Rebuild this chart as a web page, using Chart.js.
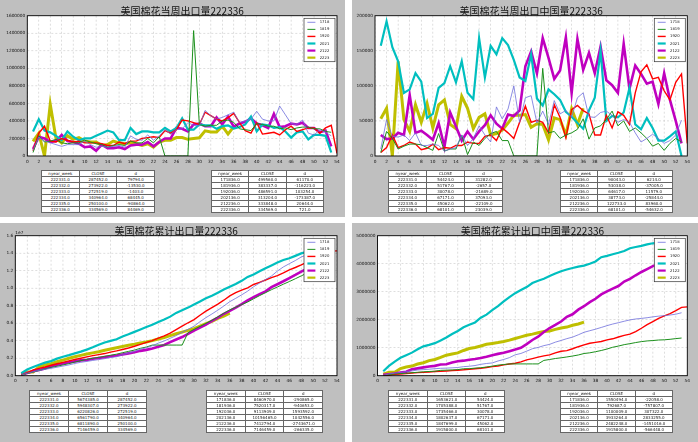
<!DOCTYPE html>
<html><head><meta charset="utf-8">
<script src="https://cdn.jsdelivr.net/npm/chart.js@4"></script>
<style>
html,body{margin:0;padding:0;background:#fff;width:698px;height:442px;overflow:hidden;position:relative}
.q{position:absolute;background:#bfbfbf}
canvas{position:absolute}
table{position:absolute;border-collapse:collapse;background:#fff;font-family:"DejaVu Sans";font-size:4px;color:#222;table-layout:fixed;z-index:5}
td{border:1px solid #666;height:5px;line-height:5px;padding:0;text-align:center;white-space:nowrap;overflow:hidden}
</style></head><body>
<div class="q" style="left:0;top:0;width:345px;height:217px"></div>
<div class="q" style="left:352px;top:0;width:346px;height:217px"></div>
<div class="q" style="left:0;top:223px;width:345px;height:219px"></div>
<div class="q" style="left:352px;top:223px;width:346px;height:219px"></div>
<canvas id="c1" width="345" height="217" style="left:0;top:0"></canvas>
<canvas id="c2" width="346" height="217" style="left:352px;top:0"></canvas>
<canvas id="c3" width="345" height="219" style="left:0;top:223px"></canvas>
<canvas id="c4" width="346" height="219" style="left:352px;top:223px"></canvas>
<script>
// ---------- series names ----------
const seasons = ['1718','1819','1920','2021','2122','2223'];
const xTicksMax = 54;

// ---------- weekly exports (chart 1) ----------
const wk1718 = [65000,217000,170000,150000,130000,110000,130000,130000,130000,170000,130000,100000,110000,100000,110000,120000,100000,230000,190000,180000,240000,180000,230000,300000,250000,300000,310000,380000,350000,340000,520000,460000,420000,440000,470000,499560,380000,400000,420000,510000,420000,400000,400000,570000,470000,370000,360000,410000,260000,240000,300000,270000,230000];
const wk1819 = [40000,230000,160000,170000,190000,150000,140000,150000,150000,180000,160000,140000,130000,100000,120000,130000,120000,170000,150000,150000,200000,150000,220000,0,0,0,0,0,1430000,360000,340000,350000,350000,400000,410000,383337,310000,300000,290000,370000,360000,340000,340000,310000,320000,300000,320000,330000,330000,310000,310000,280000,270000];
const wk1920 = [60000,260000,340000,170000,160000,200000,180000,160000,170000,150000,150000,150000,140000,120000,120000,160000,140000,170000,170000,200000,210000,220000,210000,290000,260000,300000,410000,400000,380000,360000,500000,460000,420000,400000,437000,486591,380000,290000,260000,380000,250000,260000,270000,240000,300000,340000,280000,300000,320000,320000,260000,320000,350000,30000];
const wk2021 = [280000,420000,290000,270000,230000,180000,280000,220000,180000,200000,200000,230000,260000,290000,270000,180000,180000,320000,250000,280000,280000,270000,270000,320000,280000,320000,430000,300000,300000,360000,350000,350000,310000,340000,350000,313204,330000,360000,450000,280000,360000,350000,320000,330000,280000,210000,270000,280000,190000,240000,240000,230000,40000];
const wk2122 = [80000,220000,200000,160000,170000,240000,170000,160000,140000,100000,110000,60000,130000,90000,90000,100000,80000,120000,130000,130000,160000,110000,160000,200000,200000,320000,310000,280000,360000,370000,340000,340000,440000,360000,450000,333848,370000,390000,430000,370000,350000,320000,480000,330000,340000,370000,360000,380000,320000,320000,270000,290000,110000];
const wk2223 = [167000,260000,0,590000,200000,150000,230000,190000,210000,170000,160000,160000,120000,130000,170000,150000,140000,150000,140000,120000,140000,100000,160000,180000,180000,210000,210000,190000,200000,207658,287452,273922,272519,340964,250100,334569];

// ---------- weekly exports to China (chart 2) ----------
const cn1718 = [10000,52000,28000,27000,30000,22000,33000,15000,15000,17000,15000,7000,10000,12000,30000,15000,25000,43000,30000,20000,70000,53000,67000,100000,48000,83000,86000,47000,64000,45000,79000,60000,65000,55000,83000,90043,56000,55000,62000,64000,58000,48000,52000,48000,33000,20000,25000,31000,25000,18000,22000,30000,51000];
const cn1819 = [5000,35000,25000,10000,14000,17000,17000,16000,12000,8000,32000,7000,10000,10000,30000,2000,20000,15000,25000,32000,35000,22000,22000,0,0,0,0,0,125000,33000,35000,25000,30000,33000,38000,53038,24000,40000,43000,52000,64000,43000,50000,35000,40000,33000,25000,14000,18000,8000,18000,25000,20000];
const cn1920 = [5000,12000,30000,12000,15000,20000,17000,9000,11000,17000,9000,12000,11000,15000,15000,20000,18000,18000,28000,30000,22000,40000,33000,25000,48000,71000,48000,51000,48000,33000,73000,55000,26000,66000,72000,64617,60000,30000,30000,58000,40000,63000,58000,45000,90000,120000,130000,110000,112000,93000,80000,105000,117000,18000];
const cn2021 = [157000,192000,155000,135000,90000,95000,118000,106000,54000,60000,97000,104000,128000,105000,135000,90000,81000,168000,112000,157000,145000,168000,158000,137000,112000,107000,145000,82000,72000,95000,88000,80000,63000,56000,47000,38773,65000,83000,150000,50000,57000,55000,62000,97000,45000,38000,54000,40000,22000,22000,28000,35000,0];
const cn2122 = [30000,24000,25000,33000,30000,87000,33000,36000,30000,23000,47000,13000,62000,42000,22000,35000,24000,35000,44000,58000,46000,39000,59000,57000,65000,128000,149000,118000,168000,140000,110000,122000,169000,90000,167000,122733,147000,118000,156000,108000,101000,90000,160000,96000,129000,117000,103000,106000,74000,118000,80000,50000,18000];
const cn2223 = [53000,68000,0,135000,52000,35000,73000,48000,75000,40000,73000,80000,45000,39000,85000,68000,39000,55000,60000,30000,32000,37000,47000,58000,58000,59000,41000,46000,45000,23142,54424,51767,30078,67171,45062,68101];

// ---------- cumulative exports (chart 3) ----------
const cum1718 = [65000,282000,452000,602000,732000,842000,972000,1102000,1232000,1402000,1532000,1632000,1742000,1842000,1952000,2072000,2172000,2402000,2592000,2772000,3012000,3192000,3422000,3722000,3972000,4272000,4582000,4962000,5312000,5652000,6172000,6632000,7052000,7492000,7962000,8460970,8841000,9241000,9661000,10171000,10591000,10991000,11391000,11961000,12431000,12801000,13161000,13571000,13831000,14071000,14371000,14641000,14871000];
const cum1819 = [40000,270000,430000,600000,790000,940000,1080000,1230000,1380000,1560000,1720000,1860000,1990000,2090000,2210000,2340000,2460000,2630000,2780000,2930000,3130000,3280000,3500000,3500000,3500000,3500000,3500000,3500000,4930000,5290000,5630000,5980000,6330000,6730000,7137000,7520317,7830000,8130000,8420000,8790000,9150000,9490000,9830000,10140000,10460000,10760000,11080000,11410000,11740000,12050000,12360000,12640000,12910000];
const cum1920 = [60000,320000,660000,830000,990000,1190000,1370000,1530000,1700000,1850000,2000000,2150000,2290000,2410000,2530000,2690000,2830000,3000000,3170000,3370000,3580000,3800000,4010000,4300000,4560000,4860000,5270000,5670000,6050000,6410000,6910000,7370000,7790000,8190000,8627000,9113909,9494000,9784000,10044000,10424000,10674000,10934000,11204000,11444000,11744000,12084000,12364000,12664000,12984000,13304000,13564000,13884000,14234000,14264000];
const cum2021 = [280000,700000,990000,1260000,1490000,1670000,1950000,2170000,2350000,2550000,2750000,2980000,3240000,3530000,3800000,3980000,4160000,4480000,4730000,5010000,5290000,5560000,5830000,6150000,6430000,6750000,7180000,7480000,7780000,8140000,8490000,8840000,9150000,9490000,9843000,10156465,10486000,10846000,11296000,11576000,11936000,12286000,12606000,12936000,13216000,13426000,13696000,13976000,14166000,14406000,14646000,14876000,14916000];
const cum2122 = [80000,300000,500000,660000,830000,1070000,1240000,1400000,1540000,1640000,1750000,1810000,1940000,2030000,2120000,2220000,2300000,2420000,2550000,2680000,2840000,2950000,3110000,3310000,3510000,3830000,4140000,4420000,4780000,5150000,5490000,5830000,6270000,6630000,7078946,7412794,7783000,8173000,8603000,8973000,9323000,9643000,10123000,10453000,10793000,11163000,11523000,11903000,12223000,12543000,12813000,13103000,13213000];
const cum2223 = [167000,427000,427000,1017000,1217000,1367000,1597000,1787000,1997000,2167000,2327000,2487000,2607000,2737000,2907000,3057000,3197000,3347000,3487000,3607000,3747000,3847000,4007000,4187000,4367000,4577000,4787000,4977000,5179275,5386933,5674385,5948307,6220826,6561790,6811890,7146459];

// ---------- cumulative exports to China (chart 4) ----------
const ccn1718 = [10000,62000,90000,117000,147000,169000,202000,217000,232000,249000,264000,271000,281000,293000,323000,338000,363000,406000,436000,456000,526000,579000,646000,746000,794000,877000,963000,1010000,1074000,1119000,1198000,1258000,1323000,1378000,1460451,1550494,1606000,1661000,1723000,1787000,1845000,1893000,1945000,1993000,2026000,2046000,2071000,2102000,2127000,2145000,2167000,2197000,2248000];
const ccn1819 = [5000,40000,65000,75000,89000,106000,123000,139000,151000,159000,191000,198000,208000,218000,248000,250000,270000,285000,310000,342000,377000,399000,421000,421000,421000,421000,421000,421000,546000,579000,614000,639000,669000,702000,739649,792687,817000,857000,900000,952000,1016000,1059000,1109000,1144000,1184000,1217000,1242000,1256000,1274000,1282000,1300000,1325000,1345000];
const ccn1920 = [5000,17000,47000,59000,74000,94000,111000,120000,131000,148000,157000,169000,180000,195000,210000,230000,248000,266000,294000,324000,346000,386000,419000,444000,492000,563000,611000,662000,710000,743000,816000,871000,897000,963000,1035392,1100009,1160000,1190000,1220000,1278000,1318000,1381000,1439000,1484000,1574000,1694000,1824000,1934000,2046000,2139000,2219000,2324000,2441000,2459000];
const ccn2021 = [157000,349000,504000,639000,729000,824000,942000,1048000,1102000,1162000,1259000,1363000,1491000,1596000,1731000,1821000,1902000,2070000,2182000,2339000,2484000,2652000,2810000,2947000,3059000,3166000,3311000,3393000,3465000,3560000,3648000,3728000,3791000,3847000,3894491,3933264,3998000,4081000,4231000,4281000,4338000,4393000,4455000,4552000,4597000,4635000,4689000,4729000,4751000,4773000,4801000,4836000,4836000];
const ccn2122 = [30000,54000,79000,112000,142000,229000,262000,298000,328000,351000,398000,411000,473000,515000,537000,572000,596000,631000,675000,733000,779000,818000,877000,934000,999000,1127000,1276000,1394000,1562000,1702000,1812000,1934000,2103000,2193000,2359515,2482248,2629000,2747000,2903000,3011000,3112000,3202000,3362000,3458000,3587000,3704000,3807000,3913000,3987000,4105000,4185000,4235000,4253000];
const ccn2223 = [53000,121000,121000,256000,308000,343000,416000,464000,539000,579000,652000,732000,777000,816000,901000,969000,1008000,1063000,1123000,1153000,1185000,1222000,1269000,1327000,1385000,1444000,1485000,1531000,1576055,1599197,1653621,1705388,1735466,1802637,1847699,1915800];

// ---------- tables ----------
const tblHeader = ['nyear_week','CLOSE','d'];
const tblWeeksA = [222331,222332,222333,222334,222335,222336];
const tblWeeksB = [171836,181936,192036,202136,212236,222336];
const t1aClose = [287452,273922,272519,340964,250100,334569];
const t1aD = [79794,-13530,-1403,68445,-90864,84469];
const t1bClose = [499560,383337,486591,313204,333848,334569];
const t1bD = [61170,-116223,103254,-173387,20644,721];
const t2aClose = [54424,51767,30078,67171,45062,68101];
const t2aD = [31282,-2657,-21689,37093,-22109,23039];
const t2bClose = [90043,53038,64617,38773,122733,68101];
const t2bD = [6214,-37005,11579,-25844,83960,-54632];
const t3aClose = [5674385,5948307,6220826,6561790,6811890,7146459];
const t3aD = [287452,273922,272519,340964,250100,334569];
const t3bClose = [8460970,7520317,9113909,10156465,7412794,7146459];
const t3bD = [-290865,-940653,1593592,1042556,-2743671,-266335];
const t4aClose = [1653621,1705388,1735466,1802637,1847699,1915800];
const t4aD = [54424,51767,30078,67171,45062,68101];
const t4bClose = [1550494,792687,1100009,3933264,2482248,1915800];
const t4bD = [-22058,-757807,307322,2833255,-1451016,-566448];

// ---------- styles ----------
const colors = ['#6f6fdc','#1c901c','#ff0000','#00bfbf','#bf00bf','#bfbf00'];
const widths = [0.8,1,1.4,2.2,2.6,3];
const tickFont = {family:'DejaVu Sans', size:4.3};

const framePlugin = {
  id:'frame',
  beforeDraw(chart){
    const {ctx, chartArea:a} = chart;
    ctx.save(); ctx.fillStyle='#fff';
    ctx.fillRect(a.left,a.top,a.right-a.left,a.bottom-a.top); ctx.restore();
  },
  beforeDatasetsDraw(chart){
    const {ctx, chartArea:a, scales} = chart;
    const x = scales.x, y = scales.y;
    ctx.save(); ctx.strokeStyle='#c8c8c8'; ctx.lineWidth=0.6; ctx.setLineDash([2,2]);
    x.ticks.forEach(t=>{const p=x.getPixelForValue(t.value); ctx.beginPath(); ctx.moveTo(p,a.top); ctx.lineTo(p,a.bottom); ctx.stroke();});
    y.ticks.forEach(t=>{const p=y.getPixelForValue(t.value); ctx.beginPath(); ctx.moveTo(a.left,p); ctx.lineTo(a.right,p); ctx.stroke();});
    ctx.restore();
  },
  afterDatasetsDraw(chart){
    const {ctx, chartArea:a} = chart;
    ctx.save(); ctx.strokeStyle='#000'; ctx.lineWidth=0.9;
    ctx.strokeRect(a.left,a.top,a.right-a.left,a.bottom-a.top); ctx.restore();
  },
  afterDraw(chart, args, o){
    const {ctx, chartArea:a} = chart;
    ctx.save();
    // title
    ctx.fillStyle='#111'; ctx.font='10px "Noto Sans CJK SC"'; ctx.textAlign='center'; ctx.textBaseline='middle';
    ctx.fillText(o.title,(a.left+a.right)/2,o.titleY);
    // offset text
    if(o.offset){ctx.font='4.3px "DejaVu Sans"'; ctx.textAlign='left'; ctx.textBaseline='bottom'; ctx.fillText(o.offset,a.left,a.top-0.5);}
    // legend
    const bw=31, bh=43.4, bx=a.right-2-bw, by=a.top+2.6;
    ctx.fillStyle='#fff'; ctx.fillRect(bx,by,bw,bh);
    ctx.strokeStyle='#333'; ctx.lineWidth=0.7; ctx.strokeRect(bx,by,bw,bh);
    ctx.font='3.8px "DejaVu Sans"'; ctx.textAlign='left'; ctx.textBaseline='middle';
    chart.data.datasets.forEach((ds,i)=>{
      const ly=by+4+i*7.07;
      ctx.strokeStyle=ds.borderColor; ctx.lineWidth=Math.min(ds.borderWidth,2.2);
      ctx.beginPath(); ctx.moveTo(bx+3.4,ly); ctx.lineTo(bx+11.4,ly); ctx.stroke();
      ctx.fillStyle='#222'; ctx.fillText(ds.label,bx+15.7,ly);
    });
    ctx.restore();
  }
};

function makeChart(id, series, spec){
  return new Chart(document.getElementById(id), {
    type:'line',
    data:{datasets: series.map((arr,i)=>({
      label: seasons[i],
      data: arr.map((v,j)=>({x:j+1,y:v})),
      borderColor: colors[i], backgroundColor: colors[i], borderWidth: widths[i],
      pointRadius:0, fill:false, tension:0
    }))},
    options:{
      responsive:false, animation:false, devicePixelRatio:1,
      layout:{padding:{left:0,top:spec.top,right:spec.right,bottom:0}},
      plugins:{legend:{display:false}, tooltip:{enabled:false}, title:{display:false},
        frame:{title:spec.title, titleY:spec.titleY, offset:spec.offset}},
      scales:{
        x:{type:'linear', min:0, max:xTicksMax,
          ticks:{stepSize:2, autoSkip:false, maxRotation:0, font:tickFont, color:'#111', padding:3, callback:v=>String(v)},
          grid:{display:false, drawTicks:false}, border:{display:false},
          afterFit:s=>{s.height=spec.xh; s.paddingLeft=0; s.paddingRight=0;}},
        y:{type:'linear', min:0, max:spec.ymax,
          ticks:{stepSize:spec.step, font:tickFont, color:'#111', padding:2, callback:spec.fmt},
          grid:{display:false, drawTicks:false}, border:{display:false},
          afterFit:s=>{s.width=spec.yw; s.paddingTop=0; s.paddingBottom=0;}}
      }
    },
    plugins:[framePlugin]
  });
}

const plain = v=>String(v);
makeChart('c1',[wk1718,wk1819,wk1920,wk2021,wk2122,wk2223],
  {title:'美国棉花当周出口量222336',titleY:11,top:15.7,right:8,yw:27.3,xh:61,ymax:1600000,step:200000,fmt:plain});
makeChart('c2',[cn1718,cn1819,cn1920,cn2021,cn2122,cn2223],
  {title:'美国棉花当周出口中国量222336',titleY:11,top:15.7,right:10.7,yw:23,xh:61,ymax:200000,step:50000,fmt:plain});
makeChart('c3',[cum1718,cum1819,cum1920,cum2021,cum2122,cum2223],
  {title:'美国棉花累计出口量222336',titleY:8.7,top:12.7,right:8,yw:15.3,xh:66.3,ymax:16000000,step:2000000,fmt:v=>(v/1e7).toFixed(1),offset:'1e7'});
makeChart('c4',[ccn1718,ccn1819,ccn1920,ccn2021,ccn2122,ccn2223],
  {title:'美国棉花累计出口中国量222336',titleY:8.7,top:12.7,right:10.7,yw:25.5,xh:66.3,ymax:5000000,step:1000000,fmt:plain});

function makeTable(x,y,w,weeks,close,d){
  const t=document.createElement('table');
  t.style.left=x+'px'; t.style.top=y+'px'; t.style.width=w+'px';
  let h='<colgroup><col><col><col></colgroup><tr>'+tblHeader.map(s=>'<td>'+s+'</td>').join('')+'</tr>';
  weeks.forEach((wk,i)=>{h+='<tr><td>'+wk.toFixed(1)+'</td><td>'+close[i].toFixed(1)+'</td><td>'+d[i].toFixed(1)+'</td></tr>';});
  t.innerHTML=h; document.body.appendChild(t);
}
makeTable(41,170,114,tblWeeksA,t1aClose,t1aD);
makeTable(211,170,113,tblWeeksB,t1bClose,t1bD);
makeTable(388,170,115,tblWeeksA,t2aClose,t2aD);
makeTable(560,170,113,tblWeeksB,t2bClose,t2bD);
makeTable(29,390,118,tblWeeksA,t3aClose,t3aD);
makeTable(206,390,117,tblWeeksB,t3bClose,t3bD);
makeTable(388,390,117,tblWeeksA,t4aClose,t4aD);
makeTable(560,390,113,tblWeeksB,t4bClose,t4bD);
</script>
</body></html>
